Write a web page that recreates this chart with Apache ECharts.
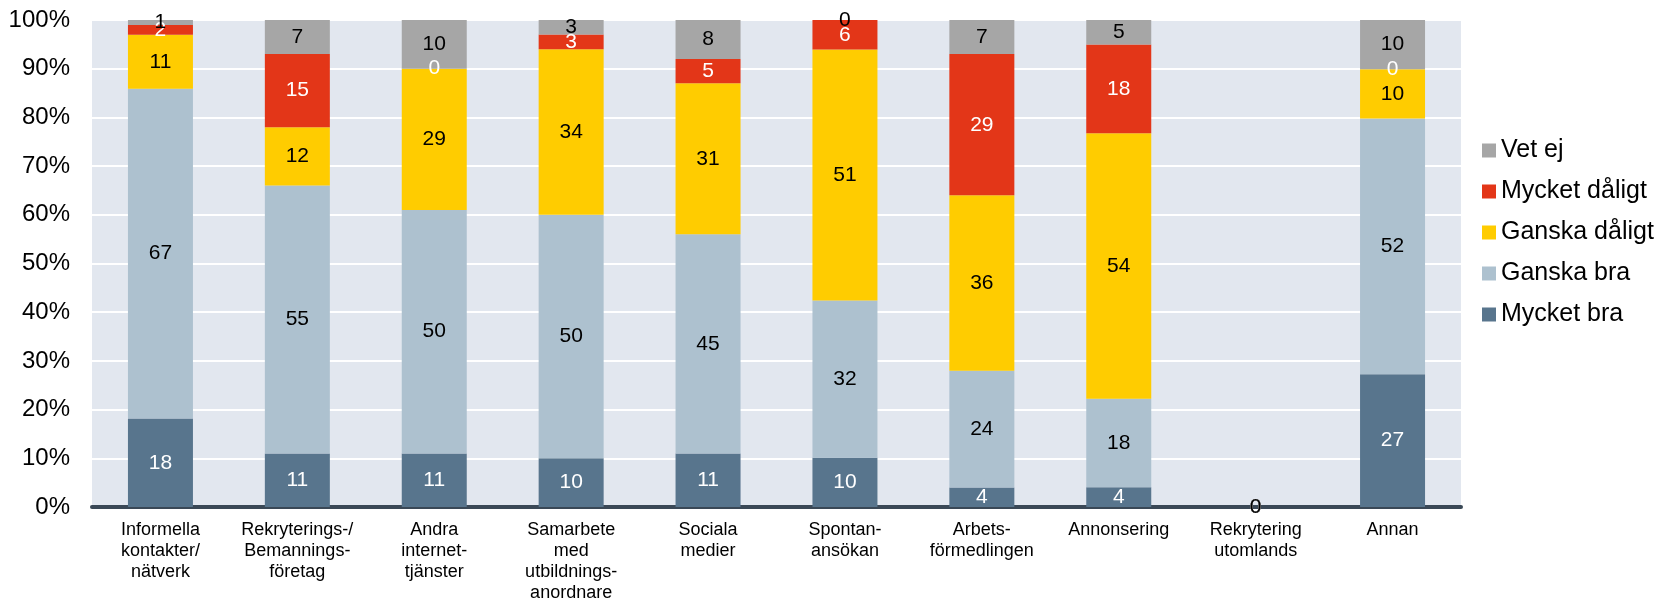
<!DOCTYPE html>
<html>
<head>
<meta charset="utf-8">
<title>Rekryteringskanaler</title>
<script src="https://cdn.jsdelivr.net/npm/echarts@6/dist/echarts.min.js"></script>
<style>
  html, body { margin: 0; padding: 0; background: #fff; }
  #chart { width: 1667px; height: 601px; }
</style>
</head>
<body>
<div id="chart"></div>
<script>
const categories = [
  'Informella\nkontakter/\nnätverk',
  'Rekryterings-/\nBemannings-\nföretag',
  'Andra\ninternet-\ntjänster',
  'Samarbete\nmed\nutbildnings-\nanordnare',
  'Sociala\nmedier',
  'Spontan-\nansökan',
  'Arbets-\nförmedlingen',
  'Annonsering',
  'Rekrytering\nutomlands',
  'Annan'
];

const mycketBra    = [18, 11, 11, 10, 11, 10, 4, 4, 0, 27];
const ganskaBra    = [67, 55, 50, 50, 45, 32, 24, 18, 0, 52];
const ganskaDaligt = [11, 12, 29, 34, 31, 51, 36, 54, 0, 10];
const mycketDaligt = [2, 15, 0, 3, 5, 6, 29, 18, 0, 0];
const vetEj        = [1, 7, 10, 3, 8, 0, 7, 5, 0, 10];

const yTicks = [0, 10, 20, 30, 40, 50, 60, 70, 80, 90, 100];

const font = 'Arial, "Liberation Sans", sans-serif';

// bars are drawn as share of the row total, labels show the given numbers
const totals = categories.map((c, i) =>
  mycketBra[i] + ganskaBra[i] + ganskaDaligt[i] + mycketDaligt[i] + vetEj[i]);

function toShare(arr) {
  return arr.map((v, i) => ({
    value: totals[i] ? (v / totals[i]) * 100 : 0,
    raw: v
  }));
}

function makeSeries(name, arr, color, labelColor) {
  return {
    name: name,
    type: 'bar',
    stack: 'total',
    barWidth: 65,
    itemStyle: { color: color },
    label: {
      show: true,
      position: 'inside',
      color: labelColor,
      fontSize: 21,
      fontFamily: font,
      formatter: p => String(p.data.raw)
    },
    emphasis: { disabled: true },
    data: toShare(arr)
  };
}

const chart = echarts.init(document.getElementById('chart'));

const option = {
  animation: false,
  textStyle: { fontFamily: font },
  grid: {
    left: 92,
    right: 206,
    top: 20,
    bottom: 94,
    show: true,
    backgroundColor: '#e2e7ef',
    borderWidth: 0,
    containLabel: false,
    outerBoundsMode: 'none'
  },
  legend: {
    orient: 'vertical',
    left: 1477,
    top: 133,
    itemWidth: 14,
    itemHeight: 14,
    itemGap: 16,
    icon: 'rect',
    textStyle: { fontSize: 25, color: '#000', fontFamily: font },
    data: ['Vet ej', 'Mycket dåligt', 'Ganska dåligt', 'Ganska bra', 'Mycket bra']
  },
  xAxis: {
    type: 'category',
    data: categories,
    axisLine: { show: true, lineStyle: { color: '#3a4856', width: 4 } },
    axisTick: { show: false },
    axisLabel: {
      color: '#000',
      fontSize: 18,
      lineHeight: 21,
      margin: 13,
      interval: 0,
      fontFamily: font
    }
  },
  yAxis: {
    type: 'value',
    min: yTicks[0],
    max: yTicks[yTicks.length - 1],
    interval: 10,
    axisLine: { show: false },
    axisTick: { show: false },
    splitLine: { lineStyle: { color: '#ffffff', width: 2 } },
    axisLabel: {
      color: '#000',
      fontSize: 24,
      margin: 22,
      fontFamily: font,
      formatter: '{value}%'
    }
  },
  series: [
    makeSeries('Mycket bra', mycketBra, '#58758d', '#ffffff'),
    makeSeries('Ganska bra', ganskaBra, '#adc1cf', '#000000'),
    makeSeries('Ganska dåligt', ganskaDaligt, '#ffcc00', '#000000'),
    makeSeries('Mycket dåligt', mycketDaligt, '#e33618', '#ffffff'),
    makeSeries('Vet ej', vetEj, '#a6a6a6', '#000000')
  ]
};

option && chart.setOption(option);
</script>
</body>
</html>
